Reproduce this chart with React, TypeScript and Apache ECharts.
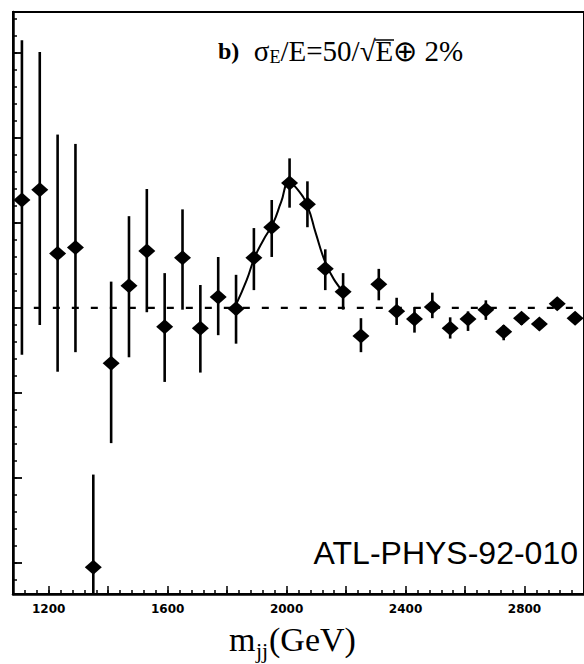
import React, { useEffect, useRef } from "react";
import * as echarts from "echarts";

// dijet invariant mass bins (GeV)
const massBins = [1110, 1170, 1230, 1290, 1350, 1410, 1470, 1530, 1590, 1650, 1710, 1770, 1830, 1890, 1950, 2010,
  2070, 2130, 2190, 2250, 2310, 2370, 2430, 2490, 2550, 2610, 2670, 2730, 2790, 2850, 2910, 2970];
// background-subtracted yield (arbitrary units)
const yields = [12.7, 13.9, 6.4, 7.1, -30.5, -6.5, 2.6, 6.7, -2.2, 5.9, -2.4, 1.3, -0.1, 5.9, 9.5, 14.7,
  12.2, 4.6, 1.9, -3.3, 2.8, -0.4, -1.3, 0.1, -2.4, -1.3, -0.2, -2.8, -1.2, -1.9, 0.5, -1.2];
const errHigh = [31.5, 30.1, 20.4, 19.3, -19.6, 3.1, 10.8, 14.0, 4.1, 11.6, 2.7, 6.0, 3.9, 9.4, 12.7, 17.6,
  14.9, 6.9, 4.1, -1.2, 4.6, 1.2, 0.1, 1.8, -1.1, -0.4, 0.9, -2.0, -0.5, -1.2, 1.2, -0.5];
const errLow = [-5.5, -2.0, -7.5, -5.2, -34, -15.9, -5.8, -0.5, -8.7, -0.2, -7.6, -3.2, -4.2, 2.1, 6.0, 11.8,
  9.5, 2.1, -0.2, -5.2, 0.9, -2.0, -2.9, -1.2, -3.6, -2.7, -1.4, -3.8, -2.0, -2.6, -0.2, -1.9];
// fitted resonance curve
const fitMass = [1830, 1866, 1892, 1922, 1955, 1982, 2008, 2038, 2071, 2098, 2131, 2164, 2194];
const fitYield = [0.4, 3.3, 5.9, 8.0, 10.0, 12.5, 14.7, 13.9, 11.9, 8.8, 5.3, 3.1, 1.8];
// axis ticks
const xLabelValues = [1200, 1600, 2000, 2400, 2800];
const xMin = 1080;
const xMax = 3000;
const yMin = -33.65;
const yMax = 34.82;

const range = (a: number, b: number, s: number) => {
  const out: number[] = [];
  for (let v = a; v <= b + 1e-9; v += s) out.push(Math.round(v * 100) / 100);
  return out;
};

export default function App() {
  const ref = useRef<HTMLDivElement>(null);
  useEffect(() => {
    if (!ref.current) return;
    const chart = echarts.init(ref.current, null, { renderer: "svg" });
    const grid = { left: 13, top: 12, right: -8, bottom: 70, show: true, borderColor: "#000", borderWidth: 2, backgroundColor: "transparent" };
    const errData = massBins.map((m, i) => [m, errHigh[i], errLow[i]]);
    const serif = "Liberation Serif";
    chart.setOption({
      animation: false,
      backgroundColor: "#fff",
      grid,
      xAxis: [
        {
          type: "value", min: xMin, max: xMax, interval: 40,
          axisLine: { onZero: false, lineStyle: { color: "#000", width: 2.5 } },
          axisTick: { inside: true, length: 4, lineStyle: { color: "#000", width: 1.5 }, customValues: range(xMin, xMax, 40) },
          axisLabel: {
            customValues: xLabelValues, color: "#000", fontFamily: "DejaVu Sans", fontWeight: "bold", fontSize: 12, margin: 9,
            formatter: (v: number) => String(v),
          },
          splitLine: { show: false },
        },
        {
          type: "value", min: xMin, max: xMax, position: "bottom",
          axisLine: { show: false, onZero: false },
          axisTick: { inside: true, length: 8, lineStyle: { color: "#000", width: 1.5 }, customValues: range(1200, 3000, 200) },
          axisLabel: { show: false },
          splitLine: { show: false },
        },
      ],
      yAxis: [
        {
          type: "value", min: yMin, max: yMax,
          axisLine: { show: true, onZero: false, lineStyle: { color: "#000", width: 2.5 } },
          axisTick: { show: true, inside: true, length: 4, lineStyle: { color: "#000", width: 1.5 }, customValues: range(-32, 34, 2) },
          axisLabel: { show: false },
          splitLine: { show: false },
        },
        {
          type: "value", min: yMin, max: yMax, position: "left",
          axisLine: { show: false, onZero: false },
          axisTick: { show: true, inside: true, length: 9, lineStyle: { color: "#000", width: 1.8 }, customValues: range(-30, 30, 10) },
          axisLabel: { show: false },
          splitLine: { show: false },
        },
      ],
      series: [
        {
          type: "line", data: [[1150, 0], [3000, 0]], symbol: "none", silent: true,
          lineStyle: { color: "#000", width: 2.2, type: [7, 12] },
        },
        {
          type: "line", data: fitMass.map((m, i) => [m, fitYield[i]]), smooth: 0.5, symbol: "none", silent: true,
          lineStyle: { color: "#000", width: 2 },
        },
        {
          type: "custom", data: errData, clip: true, silent: true,
          renderItem: (_p: any, api: any) => {
            const hi = api.coord([api.value(0), api.value(1)]);
            const lo = api.coord([api.value(0), api.value(2)]);
            return { type: "line", shape: { x1: hi[0], y1: hi[1], x2: lo[0], y2: lo[1] }, style: { stroke: "#000", lineWidth: 2.6 } };
          },
        },
        {
          type: "scatter", data: massBins.map((m, i) => [m, yields[i]]), symbol: "diamond", symbolSize: [17, 15],
          itemStyle: { color: "#000", opacity: 1 }, silent: true,
        },
      ],
      graphic: [
        {
          type: "text", x: 218, y: 36,
          style: {
            text: "{b|b)}{n|  σ}{s|E}{n|/E=50/√E⊕ 2%}",
            fill: "#000",
            verticalAlign: "top",
            rich: {
              b: { fontFamily: serif, fontWeight: "bold", fontSize: 24, lineHeight: 30 },
              n: { fontFamily: serif, fontSize: 29, lineHeight: 30 },
              s: { fontFamily: serif, fontSize: 18, lineHeight: 18, verticalAlign: "bottom" },
            },
          },
        },
        { type: "line", shape: { x1: 375, y1: 40, x2: 394, y2: 40 }, style: { stroke: "#000", lineWidth: 1.5 } },
        {
          type: "text", x: 578, y: 553,
          style: { text: "ATL-PHYS-92-010", fontFamily: "Liberation Sans", fontSize: 32, fill: "#000", align: "right", verticalAlign: "middle" },
        },
        { type: "text", x: 229, y: 639, style: { text: "m", fontFamily: serif, fontSize: 34, fill: "#000", verticalAlign: "middle" } },
        { type: "text", x: 256, y: 650, style: { text: "jj", fontFamily: serif, fontSize: 22, fill: "#000", verticalAlign: "middle" } },
        { type: "text", x: 269, y: 639, style: { text: "(GeV)", fontFamily: serif, fontSize: 34, fill: "#000", verticalAlign: "middle" } },
      ],
    });
    return () => chart.dispose();
  }, []);
  return <div ref={ref} style={{ position: "fixed", left: 0, top: 0, width: 584, height: 664, background: "#fff" }} />;
}
